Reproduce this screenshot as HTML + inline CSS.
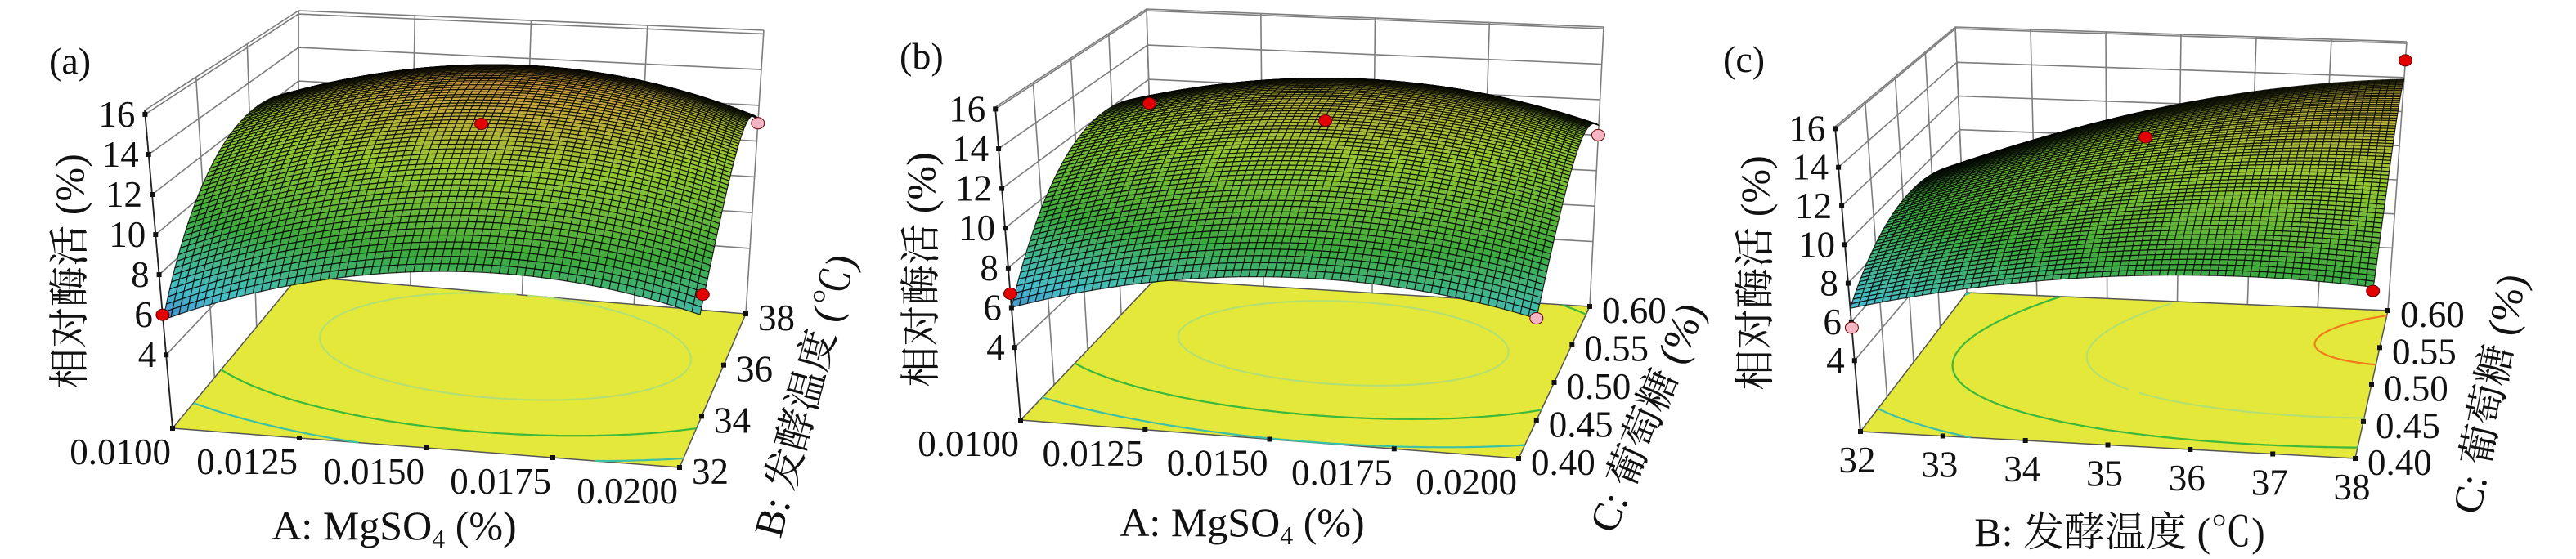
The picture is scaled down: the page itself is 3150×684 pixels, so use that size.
<!DOCTYPE html>
<html><head><meta charset="utf-8">
<style>
html,body{margin:0;padding:0;background:#fff;}
svg{display:block;}
text{font-family:"Liberation Serif","Noto Serif CJK SC",serif;fill:#111;}
</style></head>
<body>
<svg id="chart" width="3150" height="684" viewBox="0 0 3150 684" xmlns="http://www.w3.org/2000/svg"></svg>
<script>
// ---------- data ----------
// quadratic response-surface coefficients [const, u, v, u^2, v^2, uv] in coded units (-1..1)
const coefA = [14.5, 0.45, 2.3, -2.25, -3.3, -0.45];
const coefB = [13.6, 0.22, 2.05, -1.8, -3.15, -0.37];
const coefC = [12.5, 2.1, 1.5, -1.1, -2.0, 0.9];
const zTicks = [4, 6, 8, 10, 12, 14, 16];
const mgTicks = ["0.0100", "0.0125", "0.0150", "0.0175", "0.0200"];
const tempTicks6 = ["32", "34", "36", "38"];
const tempTicks7 = ["32", "33", "34", "35", "36", "37", "38"];
const glucoseTicks = ["0.40", "0.45", "0.50", "0.55", "0.60"];
// design points [u(0..1), v(0..1), value, kind]
const pointsA = [[0, 0, 6.0, "red"], [0.5, 0.5, 13.4, "red"], [1, 0, 8.5, "red"], [1, 1, 11.0, "pink"]];
const pointsB = [[0, 0, 6.7, "red"], [0, 1, 10.6, "red"], [0.5, 0.5, 13.4, "red"], [1, 1, 10.0, "pink"], [1, 0, 7.2, "pink"]];
const pointsC = [[0, 0, 5.7, "pink"], [1, 0, 8.9, "red"], [0.5, 0.5, 13.3, "red"], [1, 1, 15.0, "red"]];
const contourLevelsA = [8.5, 11, 13.5];
const contourLevelsB = [8.5, 11, 13.0];
const contourLevelsC = [8, 10, 12, 14];

const NS = "http://www.w3.org/2000/svg";
const svg = document.getElementById("chart");
function mk(tag, attrs, parent) {
  const e = document.createElementNS(NS, tag);
  for (const k in attrs) e.setAttribute(k, attrs[k]);
  (parent || svg).appendChild(e);
  return e;
}
const contourColors = ["#3cc0a8", "#3cb83a", "#b4e070", "#f07a1c"];
const cmapStops = [[5, [70, 110, 210]], [7, [70, 190, 200]], [9.5, [60, 170, 60]], [12.5, [150, 200, 50]], [14.5, [200, 170, 60]], [16.5, [215, 90, 40]]];
function cmap(z) {
  if (z <= cmapStops[0][0]) return cmapStops[0][1];
  for (let i = 1; i < cmapStops.length; i++) {
    if (z <= cmapStops[i][0]) {
      const a = cmapStops[i - 1], b = cmapStops[i], t = (z - a[0]) / (b[0] - a[0]);
      return a[1].map((c, k) => c + (b[1][k] - c) * t);
    }
  }
  return cmapStops[cmapStops.length - 1][1];
}

const panels = [
  { key: "a", ox: 0, coef: coefA, pts: pointsA, levels: contourLevelsA,
    FL: [211, 524], FR: [831, 572], BR: [912, 384], BL: [365, 338],
    FLt: [177, 135], FRt: [886, 161], BRt: [934, 37], BLt: [365, 13], zmin: 0.34, zmax: 16.2,
    xt: mgTicks, yt: tempTicks6, xAnchor: "end", xTitle: "A: MgSO", xSub: "4", xTitleTail: " (%)", xTitlePos: [482, 660],
    yTitle: "B: 发酵温度 (℃)", yTitlePos: [985, 484], yAng: -75, zTitlePos: [86, 332], label: "(a)", labelPos: [60, 90] },
  { key: "b", ox: 1050, coef: coefB, pts: pointsB, levels: contourLevelsB,
    FL: [198, 514], FR: [807, 561], BR: [894, 375], BL: [362, 342],
    FLt: [167, 131], FRt: [857, 167], BRt: [911, 33], BLt: [352, 11], zmin: 0.34, zmax: 16.1,
    xt: mgTicks, yt: glucoseTicks, xAnchor: "end", xTitle: "A: MgSO", xSub: "4", xTitleTail: " (%)", xTitlePos: [469, 656],
    yTitle: "C: 葡萄糖 (%)", yTitlePos: [965, 511], yAng: -68, zTitlePos: [77, 330], label: "(b)", labelPos: [50, 84] },
  { key: "c", ox: 2100, coef: coefC, pts: pointsC, levels: contourLevelsC,
    FL: [175, 528], FR: [780, 561], BR: [820, 380], BL: [305, 358],
    FLt: [144, 155], FRt: [820, 184], BRt: [843, 51], BLt: [291, 33], zmin: 0.33, zmax: 16.1,
    xt: tempTicks7, yt: glucoseTicks, xAnchor: "middle", xTitle: "B: 发酵温度 (℃)", xSub: "", xTitleTail: "", xTitlePos: [492, 668],
    yTitle: "C: 葡萄糖 (%)", yTitlePos: [945, 482], yAng: -79, zTitlePos: [47, 334], label: "(c)", labelPos: [7, 88] }
];

function lerp(a, b, t) { return [a[0] + (b[0] - a[0]) * t, a[1] + (b[1] - a[1]) * t]; }
function bil(p, u, v) {
  const f = lerp(p.FL, p.FR, u), b = lerp(p.BL, p.BR, u);
  const ft = lerp(p.FLt, p.FRt, u), bt = lerp(p.BLt, p.BRt, u);
  return [lerp(f, b, v), lerp(ft, bt, v)];
}
function proj(p, u, v, z) {
  const [F, T] = bil(p, u, v);
  const h = (z - p.zmin) / (p.zmax - p.zmin);
  return [p.ox + F[0] + (T[0] - F[0]) * h, F[1] + (T[1] - F[1]) * h];
}
function model(c, u, v) {
  const x = 2 * u - 1, y = 2 * v - 1;
  return c[0] + c[1] * x + c[2] * y + c[3] * x * x + c[4] * y * y + c[5] * x * y;
}
const f1 = n => n.toFixed(1);

panels.forEach(p => {
  const g = mk("g", {});
  
  

  const wall = mk("g", { stroke: "#7d7d7d", "stroke-width": 1.6, fill: "none" }, g);
  
  
  const zLines = zTicks.concat([p.zmax]);
  zLines.forEach(z => {
    const a = proj(p, 0, 0, z), b = proj(p, 0, 1, z), c = proj(p, 1, 1, z);
    mk("polyline", { points: `${f1(a[0])},${f1(a[1])} ${f1(b[0])},${f1(b[1])} ${f1(c[0])},${f1(c[1])}` }, wall);
  });
  const nv = p.yt.length - 1;
  for (let i = 0; i <= nv; i++) {
    const v = i / nv, a = proj(p, 0, v, p.zmin), b = proj(p, 0, v, p.zmax);
    mk("line", { x1: f1(a[0]), y1: f1(a[1]), x2: f1(b[0]), y2: f1(b[1]) }, wall);
  }
  const nu = p.xt.length - 1;
  for (let i = 0; i <= nu; i++) {
    const u = i / nu, a = proj(p, u, 1, p.zmin), b = proj(p, u, 1, p.zmax);
    mk("line", { x1: f1(a[0]), y1: f1(a[1]), x2: f1(b[0]), y2: f1(b[1]) }, wall);
  }

  const c0 = proj(p, 0, 0, p.zmin), c1 = proj(p, 1, 0, p.zmin), c2 = proj(p, 1, 1, p.zmin), c3 = proj(p, 0, 1, p.zmin);
  const floor = mk("polygon", { points: [c0, c1, c2, c3].map(q => f1(q[0]) + "," + f1(q[1])).join(" "), fill: "#e4e83a", stroke: "#555", "stroke-width": 1.5 }, g);
  
  

  const M = 80;
  const grid = [];
  for (let i = 0; i <= M; i++) { grid.push([]); for (let j = 0; j <= M; j++) grid[i].push(model(p.coef, i / M, j / M)); }
  p.levels.forEach((L, li) => {
    let d = "";
    for (let i = 0; i < M; i++) for (let j = 0; j < M; j++) {
      const cs = [[i, j], [i + 1, j], [i + 1, j + 1], [i, j + 1]];
      const pts = [];
      for (let k = 0; k < 4; k++) {
        const A = cs[k], B = cs[(k + 1) % 4];
        const za = grid[A[0]][A[1]], zb = grid[B[0]][B[1]];
        if ((za - L) * (zb - L) < 0) {
          const t = (L - za) / (zb - za);
          const u = (A[0] + (B[0] - A[0]) * t) / M, v = (A[1] + (B[1] - A[1]) * t) / M;
          pts.push(proj(p, u, v, p.zmin));
        }
      }
      if (pts.length >= 2) d += `M${f1(pts[0][0])},${f1(pts[0][1])}L${f1(pts[1][0])},${f1(pts[1][1])}`;
      if (pts.length === 4) d += `M${f1(pts[2][0])},${f1(pts[2][1])}L${f1(pts[3][0])},${f1(pts[3][1])}`;
    }
    const path = mk("path", { d: d, stroke: contourColors[li], "stroke-width": 2.2, fill: "none" }, g);
    
    
  });

  for (let i = 0; i <= nu; i++) {
    const q = proj(p, i / nu, 0, p.zmin);
    mk("rect", { x: f1(q[0] - 3), y: f1(q[1] - 3), width: 6, height: 6, fill: "#111" }, g);
  }
  for (let i = 0; i <= nv; i++) {
    const q = proj(p, 1, i / nv, p.zmin);
    mk("rect", { x: f1(q[0] - 3), y: f1(q[1] - 3), width: 6, height: 6, fill: "#111" }, g);
  }

  const surf = mk("g", { stroke: "rgba(0,0,0,0.8)", "stroke-width": 1.2, "stroke-linejoin": "round" }, g);
  
  
  const N = 64;
  const S = [];
  for (let i = 0; i <= N; i++) { S.push([]); for (let j = 0; j <= N; j++) { const z = model(p.coef, i / N, j / N); S[i].push([proj(p, i / N, j / N, z), z]); } }
  for (let j = N - 1; j >= 0; j--) {
    for (let i = 0; i < N; i++) {
      const q = [S[i][j], S[i + 1][j], S[i + 1][j + 1], S[i][j + 1]];
      const z = (q[0][1] + q[1][1] + q[2][1] + q[3][1]) / 4;
      const c = cmap(z).map(Math.round);
      mk("polygon", { points: q.map(r => f1(r[0][0]) + "," + f1(r[0][1])).join(" "), fill: `rgb(${c[0]},${c[1]},${c[2]})` }, surf);
    }
  }

  const za = proj(p, 0, 0, p.zmin), zb = proj(p, 0, 0, p.zmax);
  const zax = mk("line", { x1: f1(za[0]), y1: f1(za[1]), x2: f1(zb[0]), y2: f1(zb[1]), stroke: "#222", "stroke-width": 1.8 }, g);
  
  
  zTicks.forEach(z => {
    const q = proj(p, 0, 0, z);
    mk("rect", { x: f1(q[0] - 3), y: f1(q[1] - 3), width: 6, height: 6, fill: "#111" }, g);
    const t = mk("text", { x: f1(q[0] - 12), y: f1(q[1] + 15), "font-size": 45, "text-anchor": "end" }, g);
    t.textContent = z;
    
    
  });

  p.xt.forEach((s, i) => {
    const q = proj(p, i / nu, 0, p.zmin);
    const x = p.xAnchor === "end" ? q[0] - 2 : q[0] - 4;
    const t = mk("text", { x: f1(x), y: f1(q[1] + (p.xAnchor === "end" ? 44 : 50)), "font-size": 45, "text-anchor": p.xAnchor }, g);
    t.textContent = s;
    
    
  });
  p.yt.forEach((s, i) => {
    const q = proj(p, 1, i / nv, p.zmin);
    const t = mk("text", { x: f1(q[0] + 15), y: f1(q[1] + 20), "font-size": 45 }, g);
    t.textContent = s;
    
    
  });

  p.pts.forEach(pt => {
    const q = proj(p, pt[0], pt[1], pt[2]);
    const e = mk("ellipse", { cx: f1(q[0]), cy: f1(q[1]), rx: 8, ry: 7, fill: pt[3] === "red" ? "#e30000" : "#f4b6c4", stroke: "#600", "stroke-width": 1 }, g);
    
    
  });

  const xt = mk("text", { x: p.ox + p.xTitlePos[0], y: p.xTitlePos[1], "font-size": 50, "text-anchor": "middle" }, g);
  
  
  xt.appendChild(document.createTextNode(p.xTitle));
  if (p.xSub) {
    const sub = mk("tspan", { "font-size": 32, dy: 10 }, xt); sub.textContent = p.xSub;
    const tail = mk("tspan", { dy: -10 }, xt); tail.textContent = p.xTitleTail;
  }
  const yt = mk("text", { x: 0, y: 0, "font-size": 50, "text-anchor": "middle", transform: `translate(${p.ox + p.yTitlePos[0]},${p.yTitlePos[1]}) rotate(${p.yAng}) translate(0,16)` }, g);
  yt.textContent = p.yTitle;
  
  
  const zt = mk("text", { x: 0, y: 0, "font-size": 50, "text-anchor": "middle", transform: `translate(${p.ox + p.zTitlePos[0]},${p.zTitlePos[1]}) rotate(-90) translate(0,16)` }, g);
  zt.textContent = "相对酶活 (%)";
  
  
  const lb = mk("text", { x: p.ox + p.labelPos[0], y: p.labelPos[1], "font-size": 46 }, g);
  lb.textContent = p.label;
  
  
});
</script>
</body></html>
